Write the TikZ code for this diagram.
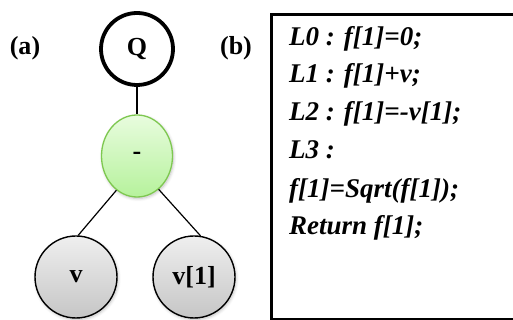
\documentclass[tikz,border=0pt]{standalone}
\usepackage{fontspec}
\setmainfont{Liberation Serif}
\usetikzlibrary{shapes.geometric,shadows.blur}
\definecolor{leafedge}{HTML}{7EC850}
\definecolor{leaftop}{HTML}{E8FCDE}
\definecolor{leafbot}{HTML}{B6F29C}
\definecolor{greytop}{HTML}{EFEFEF}
\definecolor{greybot}{HTML}{C6C6C6}
\tikzset{
  bigbold/.style={font=\bfseries\fontsize{26}{30}\selectfont},
  softshadow/.style={blur shadow={shadow xshift=1pt, shadow yshift=-1.5pt, shadow opacity=25,
    shadow blur radius=3pt, shadow blur steps=6}},
  rootnode/.style={circle, draw=black, line width=3.8pt, minimum size=72pt, inner sep=0pt, bigbold},
  opnode/.style={ellipse, draw=leafedge, line width=1.3pt, minimum width=71pt, minimum height=82pt,
    inner sep=0pt, top color=leaftop, bottom color=leafbot, softshadow, bigbold},
  leafnode/.style={circle, draw=black, line width=1.4pt, minimum size=82pt, inner sep=0pt,
    top color=greytop, bottom color=greybot, softshadow, bigbold},
  edge/.style={draw=black, line width=1.2pt},
  panel/.style={bigbold},
  codeline/.style={anchor=base west, inner sep=0pt, font=\bfseries\itshape\fontsize{27}{30}\selectfont},
}
\begin{document}
\begin{tikzpicture}[x=1pt,y=1pt]
  \useasboundingbox (0,0) rectangle (513,320);
  \clip (0,0) rectangle (513,320);
  % expression tree
  \node[rootnode] (q) at (137,271) {Q};
  \node[opnode] (minus) at (137,164) {-};
  \node[leafnode] (v) at (76,43) {v};
  \node[leafnode] (v1) at (194,43) {v[1]};
  \path[edge] (q) -- (minus);
  \path[edge] (minus.-121) -- (v.87);
  \path[edge] (minus.-57) -- (v1.81);
  % panel labels
  \node[panel] (la) at (25,272) {(a)};
  \node[panel] (lb) at (236,272) {(b)};
  % code listing
  \node[draw=black, line width=3pt, minimum width=260pt, minimum height=305pt, anchor=north west,
    inner sep=0pt] (box) at (270,307) {};
  \node[codeline] (c0) at (289,274) {L0 : f[1]=0;};
  \node[codeline] (c1) at (289,237) {L1 : f[1]+v;};
  \node[codeline] (c2) at (289,199) {L2 : f[1]=-v[1];};
  \node[codeline] (c3) at (289,161) {L3 :};
  \node[codeline] (c4) at (289,122) {f[1]=Sqrt(f[1]);};
  \node[codeline] (c5) at (289,85) {Return f[1];};
\end{tikzpicture}
\end{document}
